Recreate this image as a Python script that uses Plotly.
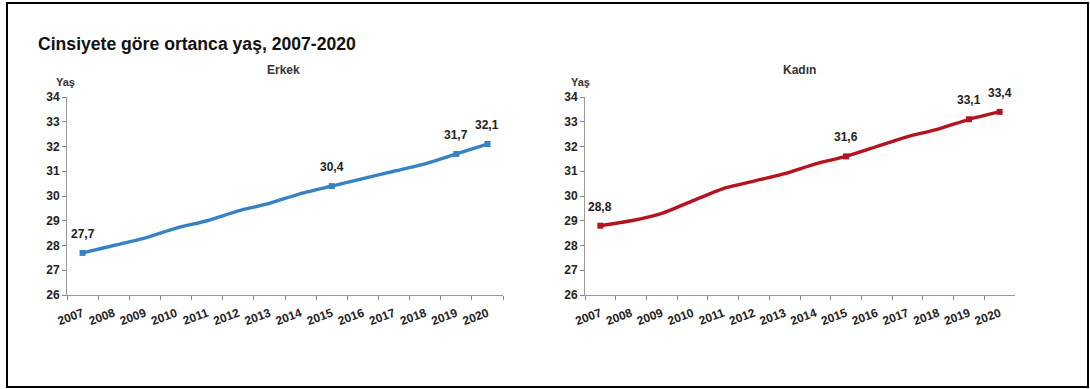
import plotly.graph_objects as go

years = [str(y) for y in range(2007, 2021)]
erkek = [27.7, 28.0, 28.3, 28.7, 29.0, 29.4, 29.7, 30.1, 30.4, 30.7, 31.0, 31.3, 31.7, 32.1]
kadin = [28.8, 29.0, 29.3, 29.8, 30.3, 30.6, 30.9, 31.3, 31.6, 32.0, 32.4, 32.7, 33.1, 33.4]
labeled_years = ["2007", "2015", "2019", "2020"]

title = "Cinsiyete göre ortanca yaş, 2007-2020"
sub_titles = ["Erkek", "Kadın"]
y_title = "Yaş"

BLUE = "#3582C4"
RED = "#B3141E"
FONT = "Liberation Sans, Arial, sans-serif"

fig = go.Figure()

def fmt(v):
    return f"{v:.1f}".replace(".", ",")

annotations = []
for i, (vals, color) in enumerate([(erkek, BLUE), (kadin, RED)]):
    xa = "x" if i == 0 else "x2"
    ya = "y" if i == 0 else "y2"
    fig.add_trace(go.Scatter(
        x=years, y=vals, mode="lines",
        line=dict(color=color, width=3.4, shape="spline", smoothing=0.6),
        xaxis=xa, yaxis=ya, showlegend=False, hoverinfo="x+y"))
    lx = [y for y in years if y in labeled_years]
    lv = [vals[years.index(y)] for y in lx]
    fig.add_trace(go.Scatter(
        x=lx, y=lv, mode="markers",
        marker=dict(color=color, size=6, symbol="square"),
        xaxis=xa, yaxis=ya, showlegend=False, hoverinfo="skip"))
    for x, v in zip(lx, lv):
        annotations.append(dict(
            x=years.index(x), y=v, xref=xa, yref=ya, text=fmt(v), showarrow=False,
            xanchor="center", yanchor="middle", yshift=19,
            font=dict(family=FONT, size=12, color="#222222", weight="bold")))

ydom = [1 - 295 / 389, 1 - 97 / 389]
xdoms = [[67 / 1090, 503 / 1090], [585 / 1090, 1015 / 1090]]

axis_common_x = dict(
    type="category", range=[-0.5, 13.5], tickson="boundaries",
    ticks="outside", ticklen=4, tickcolor="#888888",
    showline=True, linecolor="#999999", linewidth=1,
    showgrid=False, zeroline=False, tickangle=-20, ticklabelstandoff=6,
    tickfont=dict(family=FONT, size=12, color="#222222", weight="bold"),
    fixedrange=True, automargin=False)
axis_common_y = dict(
    range=[26, 34], dtick=1, ticks="outside", ticklen=4, tickcolor="#888888",
    showline=True, linecolor="#999999", linewidth=1,
    showgrid=False, zeroline=False,
    tickfont=dict(family=FONT, size=12, color="#222222", weight="bold"),
    fixedrange=True, automargin=False)

fig.update_layout(
    width=1090, height=389,
    margin=dict(l=0, r=0, t=0, b=0, pad=0, autoexpand=False),
    paper_bgcolor="white", plot_bgcolor="white",
    font=dict(family=FONT),
    xaxis=dict(domain=xdoms[0], anchor="y", **axis_common_x),
    yaxis=dict(domain=ydom, anchor="x", **axis_common_y),
    xaxis2=dict(domain=xdoms[1], anchor="y2", **axis_common_x),
    yaxis2=dict(domain=ydom, anchor="x2", **axis_common_y),
)

annotations += [
    dict(text=title, x=36 / 1090, y=1 - 44 / 389, xref="paper", yref="paper",
         xanchor="left", yanchor="middle", showarrow=False,
         font=dict(family=FONT, size=17.6, color="#111111", weight="bold")),
    dict(text=sub_titles[0], x=283 / 1090, y=1 - 70 / 389, xref="paper", yref="paper",
         xanchor="center", yanchor="middle", showarrow=False,
         font=dict(family=FONT, size=12, color="#333333", weight="bold")),
    dict(text=sub_titles[1], x=799 / 1090, y=1 - 70 / 389, xref="paper", yref="paper",
         xanchor="center", yanchor="middle", showarrow=False,
         font=dict(family=FONT, size=12, color="#333333", weight="bold")),
    dict(text=y_title, x=65 / 1090, y=1 - 82 / 389, xref="paper", yref="paper",
         xanchor="center", yanchor="middle", showarrow=False,
         font=dict(family=FONT, size=11, color="#333333", weight="bold")),
    dict(text=y_title, x=580 / 1090, y=1 - 82 / 389, xref="paper", yref="paper",
         xanchor="center", yanchor="middle", showarrow=False,
         font=dict(family=FONT, size=11, color="#333333", weight="bold")),
]
fig.update_layout(annotations=annotations)

fig.add_shape(type="rect", xref="paper", yref="paper",
              x0=7 / 1090, x1=1088 / 1090, y0=1 - 387 / 389, y1=1 - 3 / 389,
              line=dict(color="black", width=2), fillcolor="rgba(0,0,0,0)")

fig.write_html("out.html")
